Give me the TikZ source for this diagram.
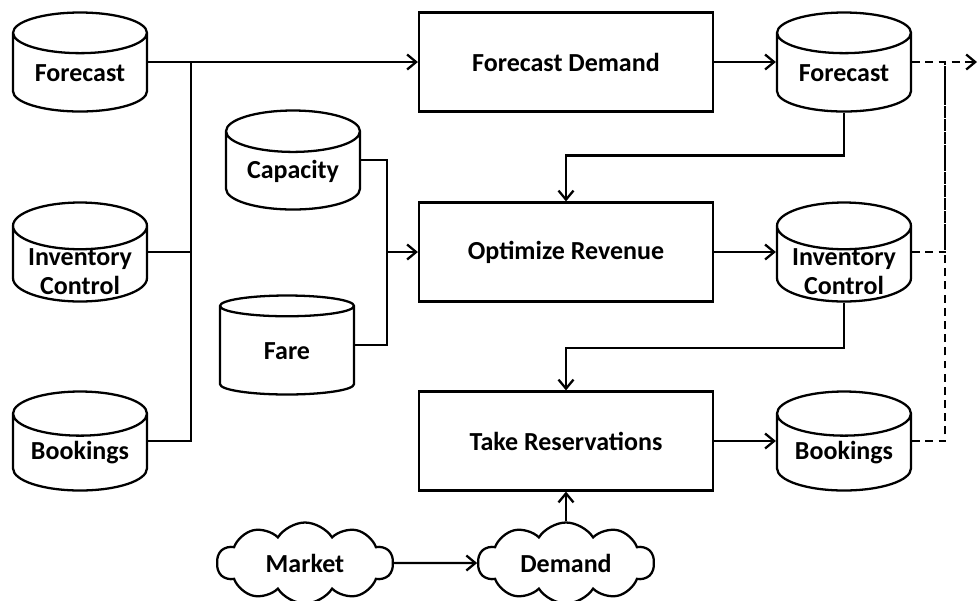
\documentclass[tikz,border=0pt]{standalone}
\usepackage{fontspec}
\setmainfont{Carlito}
\usetikzlibrary{arrows.meta,calc,positioning,shapes.geometric,shapes.symbols}
% abbassa il testo su due righe nel cilindro
\newcommand{\dbtwo}[2]{\raisebox{-0.32cm}[0pt][0pt]{\begin{tabular}{@{}c@{}}#1\\#2\end{tabular}}}

\begin{document}
\begin{tikzpicture}[x=0.02cm, y=-0.02cm, line width=1.3pt,
  >={Straight Barb[length=1.8mm,width=3mm]},
  every node/.style={font=\fontsize{14.8}{16.5}\selectfont\bfseries, align=center},
  db/.style={draw, cylinder, shape border rotate=90, aspect=0.45, minimum width=2.68cm, minimum height=1.98cm, inner sep=0pt, anchor=shape center},
  proc/.style={draw, rectangle, minimum width=5.88cm, minimum height=1.98cm},
  ext/.style={draw, cloud, cloud puffs=10, cloud puff arc=115, aspect=2.5, minimum width=3.52cm, minimum height=1.62cm, inner sep=0pt},
  dashlink/.style={dash pattern=on 4.5pt off 3pt}]

\useasboundingbox (0,0) rectangle (978,600);

% Archivi di ingresso
\node[db] (fcin)   at (80,62)  {Forecast};
\node[db] (invin)  at (80,252) {\dbtwo{Inventory}{Control}};
\node[db] (bookin) at (80,441) {Bookings};
\node[db] (cap)    at (293,160) {Capacity};
\node[db] (fare)   at (287,345) {Fare};

% Processi
\node[proc] (fdem)    at (566,62)  {Forecast Demand};
\node[proc] (optrev)  at (566,252) {Optimize Revenue};
\node[proc] (takeres) at (566,441) {Take Reservations};

% Archivi di uscita
\node[db] (fcout)   at (844,62)  {Forecast};
\node[db] (invout)  at (844,252) {\dbtwo{Inventory}{Control}};
\node[db] (bookout) at (844,441) {Bookings};

% Mercato
\node[ext] (market) at (305,563) {Market};
\node[ext] (demand) at (566,563) {Demand};

% Collegamenti
\coordinate (bus) at (191,62);
\coordinate (capfare) at (387,252);
\draw[->] (fcin.shape center -| fcin.east) -- (fdem.west);
\draw (invin.shape center -| invin.east) -| (bus);
\draw (bookin.shape center -| bookin.east) -| (bus);
\draw (cap.shape center -| cap.east) -| (capfare);
\draw (fare.shape center -| fare.east) -| (capfare);
\draw[->] (capfare) -- (optrev.west);
\draw[->] (fdem.east) -- (fcout.shape center -| fcout.west);
\draw[->] (optrev.east) -- (invout.shape center -| invout.west);
\draw[->] (takeres.east) -- (bookout.shape center -| bookout.west);
\draw[->] (fcout.south) -- ++(0,43) -| (optrev.north);
\draw[->] (invout.south) -- ++(0,45) -| (takeres.north);
\draw[->] (market) -- (demand);
\draw[->] (demand.north) -- (takeres.south);

% Uscite tratteggiate
\coordinate (dtop) at (945,62);
\coordinate (dend) at (977,62);
\draw[->, dashlink] (fcout.shape center -| fcout.east) -- (dend);
\draw[dashlink] (invout.shape center -| invout.east) -| (dtop);
\draw[dashlink] (bookout.shape center -| bookout.east) -| (dtop);

\end{tikzpicture}
\end{document}
